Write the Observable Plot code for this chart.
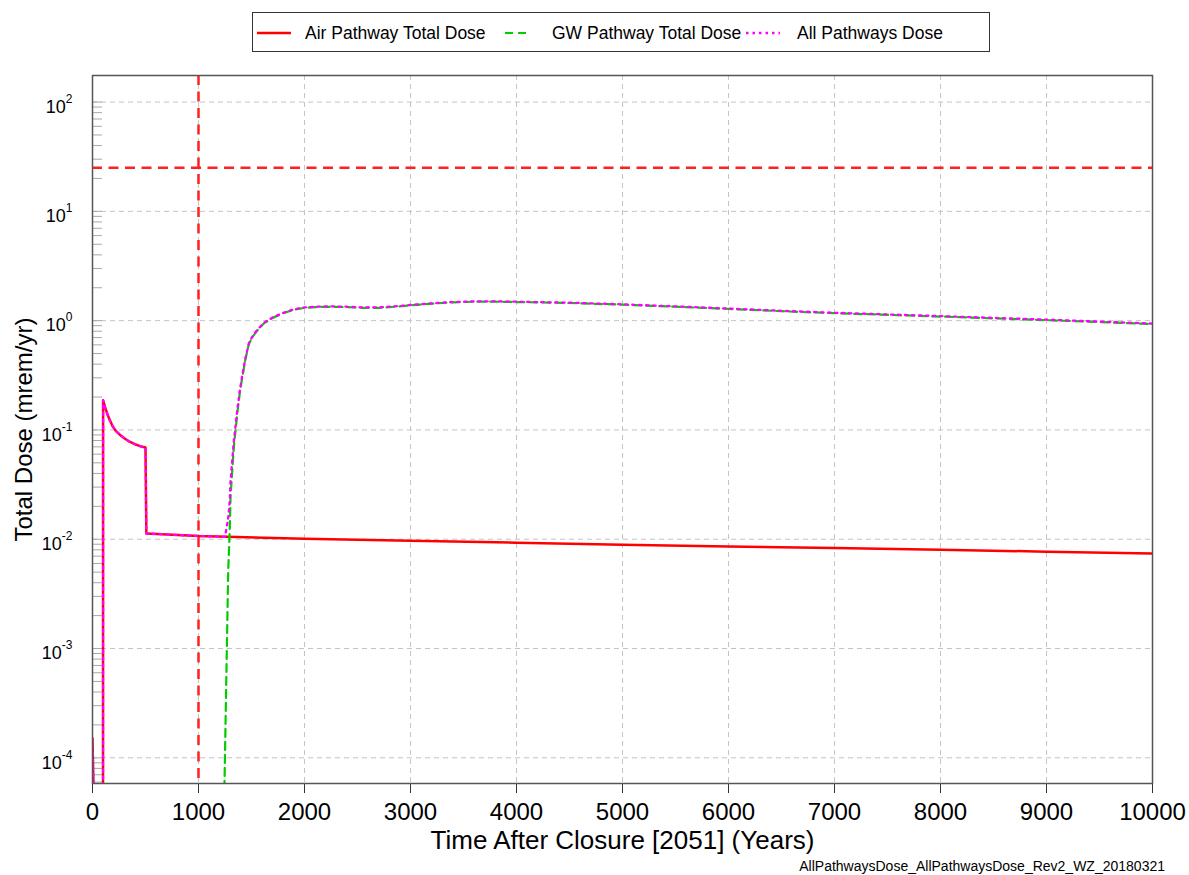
<!DOCTYPE html>
<html><head><meta charset="utf-8">
<script src="https://cdn.jsdelivr.net/npm/d3@7"></script>
<script src="https://cdn.jsdelivr.net/npm/@observablehq/plot@0.6"></script>
<style>
body{margin:0;background:#fff;font-family:"Liberation Sans",Arial,sans-serif;color:#000}
#page{position:relative;width:1189px;height:875px;overflow:hidden}
#legend{position:relative;height:60px}
#legend .box{position:absolute;left:252px;top:12px;width:738px;height:40px;border:1px solid #333;box-sizing:border-box}
#legend .sw{position:absolute;top:26px;height:14px}
#legend .lab{position:absolute;top:22px;line-height:22px;font-size:17.5px;white-space:nowrap}
#chart{position:relative;height:795px}
#caption{position:absolute;top:858px;right:24px;font-size:14px;line-height:16px;white-space:nowrap}
</style></head>
<body><div id="page">
<div id="legend"><div class="box"></div></div>
<div id="chart"></div>
<div id="caption">AllPathwaysDose_AllPathwaysDose_Rev2_WZ_20180321</div>
</div>
<script>
// ---- data ----
const seriesNames = ["Air Pathway Total Dose", "GW Pathway Total Dose", "All Pathways Dose"];
const seriesColors = ["#ff0000", "#00cc00", "#ff00ff"];

const airYear = [0, 45, 99, 100, 120, 140, 160, 190, 220, 260, 300, 350, 400, 450, 500, 508, 1000, 2000, 3000, 4000, 5000, 6000, 7000, 8000, 9000, 10000];
const airDose = [1.5e-4, 1e-6, 1e-6, 0.187, 0.16, 0.14, 0.125, 0.108, 0.098, 0.09, 0.084, 0.078, 0.074, 0.071, 0.069, 0.0113, 0.0107, 0.0101, 0.0097, 0.0093, 0.0089, 0.0086, 0.0083, 0.0080, 0.0077, 0.0074];

const gwYear = [1240, 1280, 1295, 1302, 1320, 1333, 1350, 1365, 1390, 1412, 1440, 1475, 1510, 1553, 1620, 1700, 1800, 1900, 2000, 2100, 2250, 2400, 2550, 2700, 2850, 3000, 3200, 3400, 3600, 3800, 4000, 4500, 5000, 5500, 6000, 6500, 7000, 7500, 8000, 8500, 9000, 9500, 10000];
const gwDose = [3e-5, 0.005, 0.0124, 0.024, 0.045, 0.069, 0.10, 0.14, 0.22, 0.30, 0.43, 0.61, 0.71, 0.81, 0.95, 1.06, 1.17, 1.26, 1.31, 1.33, 1.34, 1.33, 1.31, 1.31, 1.34, 1.38, 1.43, 1.47, 1.49, 1.49, 1.48, 1.45, 1.40, 1.34, 1.28, 1.22, 1.17, 1.13, 1.09, 1.05, 1.01, 0.97, 0.93];

const allYear = [0, 45, 99, 100, 120, 140, 160, 190, 220, 260, 300, 350, 400, 450, 500, 508, 1000, 1250, 1280, 1295, 1302, 1320, 1333, 1350, 1365, 1390, 1412, 1440, 1475, 1510, 1553, 1620, 1700, 1800, 1900, 2000, 2100, 2250, 2400, 2550, 2700, 2850, 3000, 3200, 3400, 3600, 3800, 4000, 4500, 5000, 5500, 6000, 6500, 7000, 7500, 8000, 8500, 9000, 9500, 10000];
const allDose = [1.5e-4, 1e-6, 1e-6, 0.187, 0.16, 0.14, 0.125, 0.108, 0.098, 0.09, 0.084, 0.078, 0.074, 0.071, 0.069, 0.0113, 0.0107, 0.0105, 0.0155, 0.0225, 0.034, 0.055, 0.079, 0.11, 0.15, 0.23, 0.31, 0.44, 0.62, 0.72, 0.82, 0.96, 1.07, 1.18, 1.27, 1.32, 1.34, 1.35, 1.34, 1.32, 1.32, 1.35, 1.39, 1.44, 1.48, 1.50, 1.50, 1.49, 1.46, 1.41, 1.35, 1.29, 1.23, 1.18, 1.14, 1.10, 1.06, 1.02, 0.98, 0.94];

const limitDose = [25];
const limitYear = [1000];
const xTicks = [0, 1000, 2000, 3000, 4000, 5000, 6000, 7000, 8000, 9000, 10000];
const yDecades = [1e-4, 1e-3, 1e-2, 1e-1, 1, 10, 100];
const yMinor = [6e-5, 7e-5, 8e-5, 9e-5,
  2e-4, 3e-4, 4e-4, 5e-4, 6e-4, 7e-4, 8e-4, 9e-4,
  2e-3, 3e-3, 4e-3, 5e-3, 6e-3, 7e-3, 8e-3, 9e-3,
  2e-2, 3e-2, 4e-2, 5e-2, 6e-2, 7e-2, 8e-2, 9e-2,
  0.2, 0.3, 0.4, 0.5, 0.6, 0.7, 0.8, 0.9,
  2, 3, 4, 5, 6, 7, 8, 9,
  20, 30, 40, 50, 60, 70, 80, 90];
const xTitle = "Time After Closure [2051] (Years)";
const yTitle = "Total Dose (mrem/yr)";

// ---- tables ----
const air = airYear.map((t, i) => ({t, v: airDose[i]}));
const gw = gwYear.map((t, i) => ({t, v: gwDose[i]}));
const all = allYear.map((t, i) => ({t, v: allDose[i]}));

// ---- legend ----
const legend = document.getElementById("legend");
const swatches = [
  {left: 257, w: 34, dash: null, width: 2.5},
  {left: 505, w: 26, dash: "8,5", width: 2.2},
  {left: 746, w: 34, dash: "2.5,4", width: 2.5}
];
const labelLeft = [305, 552, 797];
seriesNames.forEach((name, i) => {
  const s = swatches[i];
  const ns = "http://www.w3.org/2000/svg";
  const svg = document.createElementNS(ns, "svg");
  svg.setAttribute("class", "sw");
  svg.setAttribute("width", s.w);
  svg.setAttribute("height", 14);
  svg.style.left = s.left + "px";
  const ln = document.createElementNS(ns, "line");
  ln.setAttribute("x1", 0); ln.setAttribute("x2", s.w);
  ln.setAttribute("y1", 7); ln.setAttribute("y2", 7);
  ln.setAttribute("stroke", seriesColors[i]);
  ln.setAttribute("stroke-width", s.width);
  if (s.dash) ln.setAttribute("stroke-dasharray", s.dash);
  svg.appendChild(ln);
  legend.appendChild(svg);
  const lab = document.createElement("div");
  lab.className = "lab";
  lab.style.left = labelLeft[i] + "px";
  lab.textContent = name;
  legend.appendChild(lab);
});

// ---- chart ----
const gridStyle = {stroke: "#c4c4c4", strokeOpacity: 1, strokeDasharray: "5,4", strokeWidth: 1};
const chart = Plot.plot({
  width: 1189,
  height: 795,
  marginTop: 15,
  marginBottom: 72,
  marginLeft: 92,
  marginRight: 37,
  style: {fontFamily: "Liberation Sans, Arial, sans-serif", fontSize: "18px", color: "#000", background: "#fff", overflow: "visible"},
  x: {domain: [0, 10000]},
  y: {type: "log", domain: [5.82e-5, 175]},
  marks: [
    Plot.gridY(yDecades, gridStyle),
    Plot.gridX(xTicks.slice(1, -1), gridStyle),
    Plot.tickY(yMinor.concat(yDecades), {stroke: "#a8a8a8", strokeWidth: 1, insetRight: 1050}),
    Plot.axisX({ticks: xTicks, tickSize: 10, tickPadding: 9, fontSize: 24, label: null, stroke: "#333", tickFormat: d => String(d)}),
    Plot.axisY({ticks: yDecades, tickSize: 0, tickPadding: 20, fontSize: 18, label: null, dy: 5,
      tickFormat: d => "10^" + Math.round(Math.log10(d))}),
    Plot.line(air, {x: "t", y: "v", stroke: seriesColors[0], strokeWidth: 2.5, clip: true}),
    Plot.line(gw, {x: "t", y: "v", stroke: seriesColors[1], strokeWidth: 2.2, strokeDasharray: "8,5", clip: true}),
    Plot.line(all, {x: "t", y: "v", stroke: seriesColors[2], strokeWidth: 2.3, strokeDasharray: "2.5,4.5", clip: true}),
    Plot.ruleY(limitDose, {stroke: "#ff2020", strokeWidth: 2.5, strokeDasharray: "10,6.5"}),
    Plot.ruleX(limitYear, {stroke: "#ff2020", strokeWidth: 2.5, strokeDasharray: "10,6.5"}),
    Plot.frame({stroke: "#555", strokeWidth: 1.5}),
    Plot.text([xTitle], {frameAnchor: "bottom", dy: 57, lineAnchor: "middle", fontSize: 26, fill: "#000"}),
    Plot.text([yTitle], {frameAnchor: "left", textAnchor: "middle", dx: -68, rotate: -90, lineAnchor: "middle", fontSize: 24, fill: "#000"})
  ]
});
document.getElementById("chart").appendChild(chart);

// superscript exponents on the y tick labels
chart.querySelectorAll('g[aria-label="y-axis tick label"] text').forEach(t => {
  const s = t.textContent;
  const exp = s.split("^")[1];
  t.textContent = "10";
  const ts = document.createElementNS("http://www.w3.org/2000/svg", "tspan");
  ts.setAttribute("dy", "-10");
  ts.setAttribute("font-size", "12");
  ts.textContent = exp;
  t.appendChild(ts);
});
</script>
</body></html>
